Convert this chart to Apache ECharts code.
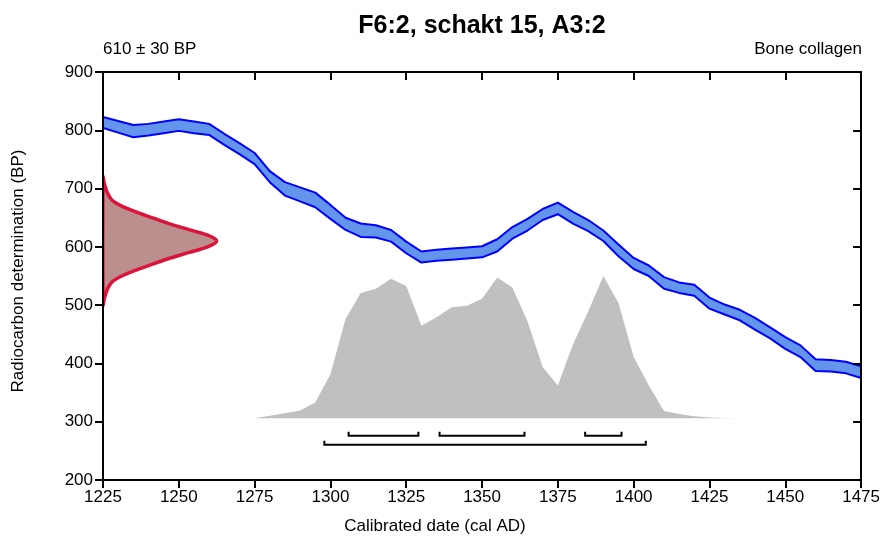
<!DOCTYPE html>
<html>
<head>
<meta charset="utf-8">
<script src="https://cdn.jsdelivr.net/npm/echarts@6/dist/echarts.min.js"></script>
<style>html,body{margin:0;padding:0;background:#fff}#c{width:883px;height:541px}</style>
</head>
<body>
<div id="c"></div>
<script>
// ---- data ----
const calYears = [1225,1230,1235,1240,1245,1250,1255,1260,1265,1270,1275,1280,1285,1290,1295,1300,1305,1310,1315,1320,1325,1330,1335,1340,1345,1350,1355,1360,1365,1370,1375,1380,1385,1390,1395,1400,1405,1410,1415,1420,1425,1430,1435,1440,1445,1450,1455,1460,1465,1470,1475];
const calUpper = [823,816,809,811,815,819,815,811,794,778,761,730,711,702,693,672,650,640,637,629,609,592,595,597,599,601,613,634,648,665,676,660,646,628,604,581,568,548,539,535,513,501,492,478,462,445,431,407,406,403,395];
const calLower = [804,796,788,791,795,799,795,792,775,759,742,711,688,678,668,648,629,617,616,609,589,573,576,578,580,582,592,614,628,646,656,640,627,610,584,562,550,528,521,516,494,484,474,458,443,425,411,387,386,383,375];

const distYears = [1275,1280,1285,1290,1295,1300,1305,1310,1315,1320,1325,1330,1335,1340,1345,1350,1355,1360,1365,1370,1375,1380,1385,1390,1395,1400,1405,1410,1415,1420,1425,1430,1435];
const distProb  = [0,0.018,0.035,0.055,0.11,0.31,0.70,0.88,0.91,0.98,0.93,0.65,0.71,0.78,0.79,0.84,0.99,0.92,0.68,0.36,0.23,0.52,0.75,1.0,0.81,0.43,0.23,0.05,0.03,0.014,0.005,0.002,0];

const c14BP   = [720,710,700,690,680,670,660,650,640,630,620,610,600,590,580,570,560,550,540,530,520,510,500];
const c14Prob = [0,0.01,0.025,0.045,0.08,0.165,0.29,0.43,0.58,0.75,0.92,1.0,0.92,0.75,0.58,0.43,0.29,0.165,0.08,0.045,0.025,0.01,0];

const range68 = [[1306,1329],[1336,1364],[1384,1396]];
const range95 = [[1298,1404]];

const xTicks = [1225,1250,1275,1300,1325,1350,1375,1400,1425,1450,1475];
const yTicks = [200,300,400,500,600,700,800,900];

const titleText = 'F6:2, schakt 15, A3:2';
const leftNote = '610 \u00b1 30 BP';
const rightNote = 'Bone collagen';
const xName = 'Calibrated date (cal AD)';
const yName = 'Radiocarbon determination (BP)';

// ---- chart ----
const FONT = "'Liberation Sans', Arial, sans-serif";
const chart = echarts.init(document.getElementById('c'), null, {renderer: 'canvas'});
const X0 = xTicks[0], X1 = xTicks[xTicks.length-1];
const Y0 = yTicks[0], Y1 = yTicks[yTicks.length-1];
const DIST_BASE = 306, DIST_SCALE = 244;   // vertical placement of calendar distribution (BP units)
const C14_SCALE = 37.5;                    // horizontal extent of radiocarbon distribution (years)

function axisCommon(pos, showLabel, inside) {
  const vert = pos === 'left' || pos === 'right';
  return {
    type: 'value', position: pos, min: vert ? Y0 : X0, max: vert ? Y1 : X1,
    interval: vert ? 100 : 25, z: 10,
    axisLine: {show: true, onZero: false, lineStyle: {color: '#000', width: 2}},
    axisTick: {show: true, inside: inside, length: 8, lineStyle: {color: '#000', width: 2}},
    axisLabel: {show: showLabel, color: '#000', fontSize: 17, fontFamily: FONT, margin: vert ? 10 : 9,
                formatter: v => String(v)},
    splitLine: {show: false}
  };
}

const option = {
  animation: false,
  backgroundColor: '#fff',
  grid: {left: 103, right: 21, top: 72, bottom: 61, containLabel: false},
  xAxis: [axisCommon('bottom', true, false), axisCommon('top', false, true)],
  yAxis: [axisCommon('left', true, false), axisCommon('right', false, true)],
  graphic: [
    {type: 'text', x: 482, y: 14, style: {text: titleText, font: 'bold 25px ' + FONT, fill: '#000', textAlign: 'center'}},
    {type: 'text', x: 103, y: 41, style: {text: leftNote, font: '17px ' + FONT, fill: '#000'}},
    {type: 'text', x: 862, y: 41, style: {text: rightNote, font: '17px ' + FONT, fill: '#000', textAlign: 'right'}},
    {type: 'text', x: 435, y: 518, style: {text: xName, font: '17px ' + FONT, fill: '#000', textAlign: 'center'}},
    {type: 'text', x: 10, y: 271, rotation: Math.PI/2, style: {text: yName, font: '17px ' + FONT, fill: '#000', textAlign: 'center', textVerticalAlign: 'top'}}
  ],
  series: [
    {
      type: 'custom', name: 'calendar', clip: true, z: 2,
      data: [0],
      renderItem: function(params, api) {
        const pts = [];
        for (let i = 0; i < distYears.length; i++) pts.push(api.coord([distYears[i], DIST_BASE + distProb[i]*DIST_SCALE]));
        return {type: 'polygon', shape: {points: pts}, style: {fill: '#c0c0c0', stroke: null}};
      }
    },
    {
      type: 'custom', name: 'curve', clip: true, z: 3,
      data: [0],
      renderItem: function(params, api) {
        const pts = [];
        for (let i = 0; i < calYears.length; i++) pts.push(api.coord([calYears[i], calUpper[i]]));
        for (let i = calYears.length-1; i >= 0; i--) pts.push(api.coord([calYears[i], calLower[i]]));
        return {type: 'polygon', shape: {points: pts}, style: {fill: '#6495ed', stroke: '#0000ff', lineWidth: 2, lineJoin: 'round'}};
      }
    },
    {
      type: 'custom', name: 'c14', clip: true, z: 4,
      data: [0],
      renderItem: function(params, api) {
        const pts = [];
        for (let i = 0; i < c14BP.length; i++) pts.push(api.coord([X0 + c14Prob[i]*C14_SCALE, c14BP[i]]));
        return {type: 'polygon', shape: {points: pts, smooth: 0.3}, style: {fill: '#bc8f8f', stroke: '#dc143c', lineWidth: 3.5, lineJoin: 'round'}};
      }
    },
    {
      type: 'custom', name: 'ranges', clip: false, z: 5,
      data: range68.map(r => [r[0], r[1], 0]).concat(range95.map(r => [r[0], r[1], 1])),
      renderItem: function(params, api) {
        const a = api.coord([api.value(0), DIST_BASE]);
        const b = api.coord([api.value(1), DIST_BASE]);
        const y = a[1] + (api.value(2) === 0 ? 17.5 : 26.5);
        return {type: 'polyline', shape: {points: [[a[0], y-4], [a[0], y], [b[0], y], [b[0], y-4]]},
                style: {stroke: '#000', lineWidth: 2, fill: null}};
      }
    }
  ]
};
chart.setOption(option);
</script>
</body>
</html>
